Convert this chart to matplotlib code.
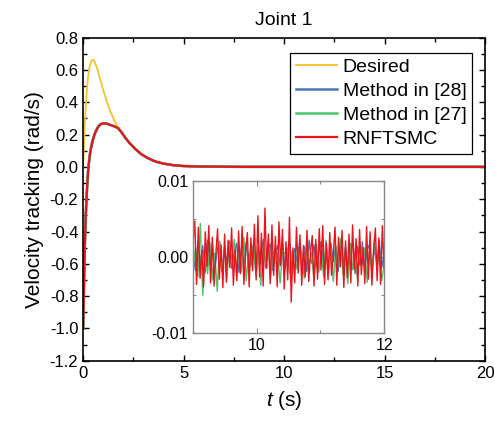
import numpy as np
import matplotlib
matplotlib.use('Agg')
import matplotlib.pyplot as plt
from matplotlib.ticker import MultipleLocator, FormatStrFormatter

plt.rcParams['font.family'] = ['Liberation Sans', 'DejaVu Sans']
plt.rcParams['mathtext.fontset'] = 'custom'
plt.rcParams['mathtext.rm'] = 'Liberation Sans'
plt.rcParams['mathtext.it'] = 'Liberation Sans:italic'
plt.rcParams['axes.unicode_minus'] = False

# Данные: переходный процесс (рад/с)
t_main = [0, 0.02, 0.05, 0.08, 0.1, 0.13, 0.16, 0.2, 0.25, 0.3, 0.35, 0.4, 0.47,
          0.55, 0.65, 0.75, 0.85, 1.0, 1.15, 1.3, 1.45, 1.6, 1.75, 1.9, 2.1, 2.3,
          2.6, 2.9, 3.2, 3.6, 4.0, 4.5, 5.0, 5.5, 6.0, 7.0, 8.0, 10.0, 15.0, 20.0]
desired = [0.0, 0.07, 0.16, 0.25, 0.30, 0.37, 0.43, 0.50, 0.56, 0.605, 0.635, 0.653, 0.663,
           0.657, 0.625, 0.585, 0.54, 0.475, 0.415, 0.36, 0.315, 0.275, 0.24, 0.215, 0.18, 0.148,
           0.11, 0.078, 0.055, 0.033, 0.02, 0.01, 0.005, 0.003, 0.002, 0.001, 0.0, 0.0, 0.0, 0.0]
method28 = [-1.0, -0.86, -0.67, -0.49, -0.41, -0.30, -0.21, -0.11, -0.02, 0.04, 0.09, 0.125, 0.162,
            0.197, 0.227, 0.249, 0.262, 0.27, 0.268, 0.262, 0.255, 0.248, 0.239, 0.215, 0.18, 0.148,
            0.11, 0.078, 0.055, 0.033, 0.02, 0.01, 0.005, 0.003, 0.002, 0.001, 0.0, 0.0, 0.0, 0.0]
method27 = [-1.0, -0.87, -0.68, -0.50, -0.42, -0.30, -0.22, -0.12, -0.02, 0.04, 0.09, 0.122, 0.16,
            0.195, 0.225, 0.248, 0.262, 0.27, 0.268, 0.262, 0.255, 0.248, 0.238, 0.215, 0.18, 0.148,
            0.11, 0.078, 0.055, 0.033, 0.02, 0.01, 0.005, 0.003, 0.002, 0.001, 0.0, 0.0, 0.0, 0.0]
rnftsmc = [-1.0, -0.87, -0.68, -0.50, -0.42, -0.30, -0.22, -0.12, -0.02, 0.04, 0.09, 0.12, 0.16,
           0.195, 0.225, 0.248, 0.262, 0.27, 0.268, 0.262, 0.255, 0.248, 0.238, 0.215, 0.18, 0.148,
           0.11, 0.078, 0.055, 0.033, 0.02, 0.01, 0.005, 0.003, 0.002, 0.001, 0.0, 0.0, 0.0, 0.0]

# Данные вставки: ошибка в установившемся режиме, 9..12 с (x1e-3 рад/с)
red_noise = [
    1.8, 4.7, -3.6, 3.9, -2.8, 0.9, -3.9, 3.3, -1.2, 4.1,
    -3.4, 2.6, -3.8, 0.4, 3.7, -2.9, 1.6, -4.0, 3.0, -3.3,
    2.2, -1.4, 3.8, -3.7, 1.0, -3.1, 3.4, -2.2, 4.0, -3.6,
    0.8, 3.2, -3.9, 2.5, -1.8, 4.3, -3.0, 5.4, -2.6, 3.1,
    -3.8, 6.4, -1.5, 3.0, -3.5, 4.2, -2.4, 2.7, -3.9, 4.6,
    -1.0, 3.6, -4.2, 2.0, -3.0, 5.2, -5.9, 1.2, -3.4, 3.9,
    -2.1, 2.9, -3.7, 1.5, -2.6, 3.5, -3.2, 0.6, 2.8, -3.8,
    2.3, -2.9, 3.7, -1.7, 4.1, -3.6, 1.9, -3.0, 3.2, -2.4,
    0.4, 3.9, -3.7, 2.6, -1.3, 3.5, -4.0, 2.1, -2.7, 3.0,
    -3.4, 4.2, -1.6, 2.4, -3.8, 3.6, -2.3, 1.2, -3.5, 4.0,
    -2.9, 3.3, -3.7, 0.9, 3.8, -3.1, 2.5, -3.6, 4.1, -1.4,
]
green_noise = [
    -1.5, 1.2, -2.6, 4.4, -5.0, 0.8, -2.2, 1.9, -3.0, 0.5,
    -4.5, 2.1, -1.8, 0.9, -2.7, 1.6, -0.6, 2.3, -2.4, 1.0,
    -1.9, 2.6, -3.1, 0.7, -1.2, 1.8, -2.5, 0.3, -3.7, 1.4,
    -0.8, 2.0, -2.9, 0.6, 0.9, 0.2, -3.4, 0.7, 0.5, 1.1,
    -2.2, 0.8, 0.4, -1.6, 1.3, 0.5, -2.8, 1.9, -1.1, 0.6,
    -3.0, 1.7, -2.0, 0.9, -2.6, 2.2, -1.4, 1.0, -3.2, 1.5,
    -0.9, 2.4, -2.3, 0.7, -3.5, 1.8, -1.7, 0.4, -2.9, 2.0,
    -1.0, 1.2, -3.3, 0.8, -2.1, 2.3, -1.5, 0.6, -3.1, -1.0,
]
blue_noise = [
    0.6, -1.8, 1.9, -0.7, 1.5, -2.1, 2.2, -1.0, 1.7, -1.6,
    0.9, 2.0, -1.9, 1.4, -0.8, 2.1, -1.5, 0.5, 1.8, -2.0,
    1.2, -1.1, 1.9, -1.7, 0.8, 1.6, -2.2, 1.3, -0.9, 2.3,
    -1.4, 1.0, 1.7, -1.8, 0.6, 1.5, -1.2, 2.0, -1.6, 0.9,
    1.8, -2.1, 1.1, -0.7, 1.9, -1.5, 1.4, -1.9, 2.2, -0.8,
    1.6, -1.3, 0.7, 2.0, -1.7, 1.2, -2.0, 1.8, -0.6, 1.5,
    -1.9, 2.1, -1.0, 1.3, -1.6, 0.8, 1.9, -2.2, 1.4, -1.1,
    2.0, -1.5, 0.9, 1.7, -1.8, 1.1, -0.9, 2.1, -1.4, 0.5,
]

c_des = '#F5C22A'
c_28 = '#4A76C0'
c_27 = '#4CC36E'
c_rn = '#E8141B'

fig = plt.figure(figsize=(4.95, 4.22), dpi=100)
ax = fig.add_axes([0.168, 0.145, 0.812, 0.766])

ax.plot(t_main, desired, color=c_des, lw=1.3, label='Desired')
ax.plot(t_main, method28, color=c_28, lw=1.8, label='Method in [28]')
ax.plot(t_main, method27, color=c_27, lw=1.8, label='Method in [27]')
ax.plot(t_main, rnftsmc, color=c_rn, lw=1.6, label='RNFTSMC')

ax.set_xlim(0, 20)
ax.set_ylim(-1.2, 0.8)
ax.xaxis.set_major_locator(MultipleLocator(5))
ax.xaxis.set_minor_locator(MultipleLocator(2.5))
ax.yaxis.set_major_locator(MultipleLocator(0.2))
ax.yaxis.set_minor_locator(MultipleLocator(0.1))
ax.yaxis.set_major_formatter(FormatStrFormatter('%.1f'))
ax.tick_params(which='both', direction='in', top=True, right=True, labelsize=12, width=1.0)
ax.tick_params(which='major', length=4.5)
ax.tick_params(which='minor', length=3)
for s in ax.spines.values():
    s.set_linewidth(1.2)

ax.set_xlabel('$t$ (s)', fontsize=15, labelpad=6)
ax.set_ylabel('Velocity tracking (rad/s)', fontsize=15, labelpad=4)
ax.set_title('Joint 1', fontsize=14, pad=9)

leg = ax.legend(loc='upper right', bbox_to_anchor=(0.968, 0.953), borderaxespad=0,
                fontsize=14, frameon=True, fancybox=False, framealpha=1,
                edgecolor='black', handlelength=2.1, handletextpad=0.3,
                labelspacing=0.32, borderpad=0.3)
leg.get_frame().set_linewidth(0.9)

# Вставка
axins = fig.add_axes([0.390, 0.210, 0.386, 0.362])
t_red = np.linspace(9, 12, len(red_noise))
t_gb = np.linspace(9, 12, len(green_noise))
axins.plot(t_gb, np.array(blue_noise) * 1e-3, color=c_28, lw=1.0)
axins.plot(t_gb, np.array(green_noise) * 1e-3, color=c_27, lw=1.0)
axins.plot(t_red, np.array(red_noise) * 1e-3, color=c_rn, lw=1.0)
axins.set_xlim(9, 12)
axins.set_ylim(-0.01, 0.01)
axins.xaxis.set_major_locator(MultipleLocator(2))
axins.xaxis.set_minor_locator(MultipleLocator(1))
axins.yaxis.set_major_locator(MultipleLocator(0.01))
axins.yaxis.set_minor_locator(MultipleLocator(0.005))
axins.yaxis.set_major_formatter(FormatStrFormatter('%.2f'))
axins.tick_params(which='both', direction='in', top=True, right=True, labelsize=11.5,
                  color='#888888', width=0.8)
axins.tick_params(which='major', length=3.5)
axins.tick_params(which='minor', length=2.5)
for s in axins.spines.values():
    s.set_color('#888888')
    s.set_linewidth(1.0)

fig.savefig('out.png', dpi=100)
